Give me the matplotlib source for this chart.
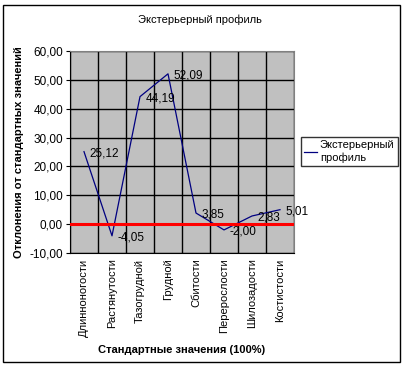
import matplotlib
matplotlib.use('Agg')
import matplotlib.pyplot as plt
from matplotlib.patches import Rectangle

# данные профиля
categories = ["Длинноногости", "Растянутости", "Тазогрудной", "Грудной",
              "Сбитости", "Перерослости", "Шилозадости", "Костистости"]
values = [25.12, -4.05, 44.19, 52.09, 3.85, -2.00, 2.83, 5.01]
yticks = [-10, 0, 10, 20, 30, 40, 50, 60]

plt.rcParams['font.family'] = ['Liberation Sans', 'DejaVu Sans']

fig = plt.figure(figsize=(4.04, 3.67), dpi=100)
fig.patches.append(Rectangle((3 / 404, 5 / 367), 397 / 404, 357 / 367,
                             transform=fig.transFigure, fill=False,
                             edgecolor='black', linewidth=1))

ax = fig.add_axes([70 / 404, 1 - 253 / 367, 224 / 404, 202 / 367])
ax.set_facecolor('#c0c0c0')

x = list(range(len(categories)))
ax.plot(x, values, color='#000080', linewidth=0.9, label='Экстерьерный\nпрофиль')
for xi, v in zip(x, values):
    ax.annotate(f"{v:.2f}".replace('.', ','), (xi, v), xytext=(4, -1),
                textcoords='offset points', ha='left', va='center', fontsize=8.5)

ax.axhline(0, color='red', linewidth=2.2, zorder=3)

ax.set_xlim(-0.5, len(categories) - 0.5)
ax.set_ylim(-10, 60)
ax.set_yticks(yticks)
ax.set_yticklabels([f"{t:.2f}".replace('.', ',') for t in yticks], fontsize=8.5)
ax.set_xticks(x)
ax.set_xticklabels(categories, rotation=90, fontsize=8)
ax.tick_params(axis='x', length=0, pad=4)
ax.tick_params(axis='y', length=3, pad=2)
for b in [i + 0.5 for i in range(-1, len(categories))]:
    ax.axvline(b, color='black', linewidth=1, zorder=1)
ax.grid(axis='y', color='black', linewidth=1)
ax.set_axisbelow(True)
for s in ax.spines.values():
    s.set_color('#808080')
ax.spines['left'].set_color('black')
ax.spines['bottom'].set_color('black')

ax.set_ylabel("Отклонения от стандартных значений", fontsize=8, fontweight='bold', labelpad=4)
ax.set_xlabel("Стандартные значения (100%)", fontsize=8, fontweight='bold', labelpad=6)
fig.text(200 / 404, 1 - 20 / 367, "Экстерьерный профиль", ha='center', va='center', fontsize=8)

leg = fig.legend(loc='upper left', bbox_to_anchor=(301 / 404, 1 - 137 / 367, 97 / 404, 0.0),
                 mode='expand', fontsize=8, frameon=True, fancybox=False, handlelength=1.1,
                 borderpad=0.3, labelspacing=0.2, handletextpad=0.3,
                 borderaxespad=0)
leg.get_frame().set_edgecolor('black')
leg.get_frame().set_linewidth(1)

fig.savefig('out.png', dpi=100)
